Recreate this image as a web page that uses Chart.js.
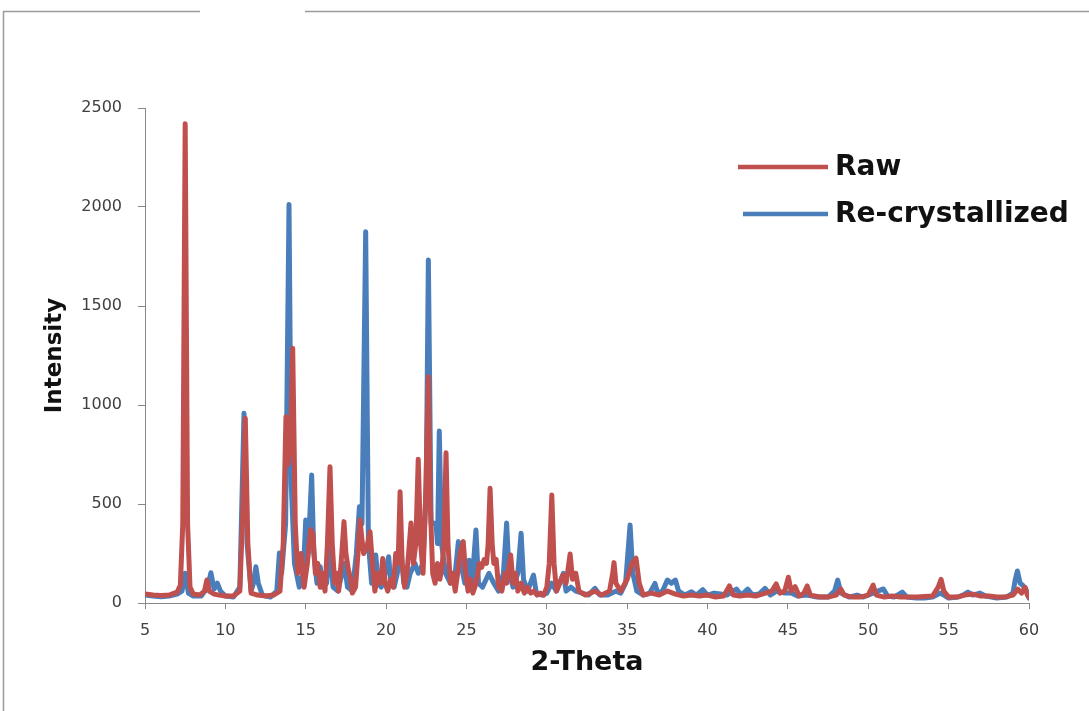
<!DOCTYPE html>
<html>
<head>
<meta charset="utf-8">
<title>XRD pattern</title>
<script src="https://cdn.jsdelivr.net/npm/chart.js@4/dist/chart.umd.min.js"></script>
<style>
  html, body { margin: 0; padding: 0; background: #fff; }
  #wrap { width: 1089px; height: 711px; position: relative; }
</style>
</head>
<body>
<div id="wrap"><canvas id="xrd" width="1089" height="711"></canvas></div>
<script>
// 2-Theta / intensity
var rawTheta = [5.0, 5.5, 6.0, 6.5, 7.0, 7.2, 7.35, 7.5, 7.65, 7.8, 8.0, 8.4, 8.7, 8.85, 9.0, 9.3, 9.6, 10.0, 10.5, 10.9,
	11.1, 11.24, 11.4, 11.6, 12.0, 12.5, 13.0, 13.4, 13.6, 13.77, 13.9, 14.05, 14.19, 14.35, 14.5, 14.7, 14.9, 15.1, 15.3, 15.45,
	15.6, 15.75, 15.9, 16.05, 16.2, 16.35, 16.51, 16.65, 16.8, 16.95, 17.05, 17.2, 17.38, 17.5, 17.65, 17.8, 17.9, 18.1, 18.25, 18.38,
	18.5, 18.6, 18.8, 19.0, 19.15, 19.3, 19.5, 19.65, 19.79, 19.95, 20.1, 20.3, 20.45, 20.6, 20.75, 20.87, 21.0, 21.15, 21.3, 21.4,
	21.55, 21.7, 21.85, 22.0, 22.15, 22.3, 22.45, 22.63, 22.75, 22.9, 23.05, 23.2, 23.35, 23.5, 23.6, 23.73, 23.85, 24.0, 24.15, 24.3,
	24.45, 24.6, 24.8, 24.95, 25.1, 25.25, 25.4, 25.6, 25.8, 25.95, 26.1, 26.25, 26.35, 26.47, 26.6, 26.7, 26.85, 27.0, 27.2, 27.4,
	27.5, 27.75, 27.9, 28.05, 28.2, 28.4, 28.6, 28.8, 29.0, 29.2, 29.4, 29.6, 29.8, 30.0, 30.15, 30.31, 30.45, 30.6, 30.8, 31.0,
	31.2, 31.45, 31.6, 31.8, 32.0, 32.4, 33.0, 33.4, 33.9, 34.1, 34.18, 34.3, 34.6, 35.0, 35.3, 35.55, 35.75, 36.0, 36.5, 37.0,
	37.5, 38.0, 38.5, 39.0, 39.5, 40.0, 40.5, 41.0, 41.36, 41.6, 42.0, 42.5, 43.0, 43.6, 44.0, 44.27, 44.5, 44.8, 45.03, 45.2,
	45.45, 45.7, 46.0, 46.2, 46.4, 47.0, 47.5, 48.0, 48.3, 48.5, 49.0, 49.5, 50.0, 50.3, 50.5, 51.0, 51.5, 52.0, 53.0, 54.0,
	54.35, 54.53, 54.7, 55.0, 55.5, 56.0, 56.5, 57.0, 57.5, 58.0, 58.5, 59.0, 59.3, 59.55, 59.76, 59.9, 60.0];
var rawIntensity = [45, 40, 38, 40, 55, 90, 400, 2420, 400, 80, 45, 40, 60, 116, 60, 45, 40, 35, 35, 60,
	500, 933, 300, 50, 40, 35, 40, 60, 300, 941, 700, 800, 1286, 400, 150, 250, 80, 200, 370, 350,
	150, 200, 80, 150, 60, 300, 688, 300, 100, 150, 60, 200, 411, 250, 170, 120, 50, 80, 250, 419,
	320, 250, 280, 360, 200, 60, 150, 100, 225, 100, 60, 120, 80, 250, 200, 562, 200, 80, 150, 250,
	404, 200, 300, 726, 300, 150, 500, 1143, 500, 150, 100, 200, 120, 200, 300, 759, 300, 100, 150, 60,
	150, 250, 310, 150, 60, 120, 50, 100, 200, 180, 220, 200, 300, 579, 300, 200, 220, 80, 60, 150,
	100, 242, 100, 150, 60, 100, 50, 80, 50, 60, 40, 50, 40, 80, 200, 545, 200, 60, 100, 140,
	100, 247, 120, 150, 60, 40, 60, 40, 60, 150, 204, 100, 60, 120, 200, 226, 100, 40, 50, 40,
	60, 45, 35, 40, 35, 40, 30, 35, 86, 40, 35, 40, 35, 50, 60, 96, 50, 60, 130, 60,
	82, 35, 50, 86, 40, 30, 30, 40, 70, 40, 30, 30, 40, 91, 40, 30, 35, 30, 30, 35,
	80, 120, 60, 30, 30, 40, 45, 35, 35, 30, 30, 40, 70, 50, 79, 40, 30];

var recTheta = [5.0, 5.5, 6.0, 6.5, 7.0, 7.3, 7.5, 7.7, 8.0, 8.5, 8.9, 9.1, 9.3, 9.5, 9.7, 10.0, 10.5, 10.9, 11.16, 11.35,
	11.6, 11.75, 11.9, 12.05, 12.3, 12.8, 13.2, 13.36, 13.5, 13.75, 13.96, 14.1, 14.3, 14.6, 14.85, 15.0, 15.15, 15.37, 15.5, 15.7,
	15.9, 16.05, 16.3, 16.5, 16.7, 17.0, 17.4, 17.6, 17.9, 18.15, 18.34, 18.5, 18.73, 18.9, 19.1, 19.36, 19.5, 19.7, 19.95, 20.16,
	20.3, 20.5, 20.7, 20.9, 21.1, 21.3, 21.5, 21.8, 22.0, 22.3, 22.5, 22.63, 22.8, 23.1, 23.2, 23.31, 23.45, 23.7, 24.0, 24.3,
	24.5, 24.65, 24.9, 25.17, 25.35, 25.59, 25.75, 26.0, 26.4, 26.7, 27.0, 27.3, 27.5, 27.65, 27.9, 28.2, 28.4, 28.55, 28.8, 29.17,
	29.35, 29.7, 30.0, 30.3, 30.6, 31.03, 31.2, 31.5, 31.8, 32.2, 32.6, 33.0, 33.3, 33.8, 34.3, 34.6, 34.9, 35.18, 35.35, 35.6,
	36.0, 36.4, 36.73, 36.9, 37.2, 37.5, 37.75, 38.0, 38.2, 38.6, 39.0, 39.3, 39.7, 40.0, 40.4, 40.8, 41.2, 41.8, 42.1, 42.5,
	42.8, 43.2, 43.58, 43.9, 44.3, 44.8, 45.2, 45.6, 46.2, 46.8, 47.5, 47.9, 48.1, 48.3, 48.8, 49.3, 49.7, 50.3, 50.94, 51.2,
	51.6, 52.12, 52.4, 53.0, 53.5, 54.0, 54.5, 55.0, 55.6, 55.9, 56.2, 56.5, 56.95, 57.3, 58.0, 58.6, 59.0, 59.15, 59.28, 59.45,
	59.6, 59.8, 60.0];
var recIntensity = [40, 35, 32, 35, 45, 60, 150, 50, 35, 35, 80, 153, 70, 100, 60, 35, 30, 80, 958, 300,
	60, 100, 183, 100, 40, 30, 60, 252, 150, 400, 2013, 600, 200, 80, 150, 419, 250, 646, 250, 100,
	183, 80, 100, 300, 80, 60, 200, 80, 60, 250, 486, 400, 1875, 300, 100, 242, 100, 80, 150, 234,
	100, 80, 150, 300, 100, 80, 150, 200, 150, 200, 600, 1732, 400, 404, 300, 869, 300, 150, 100, 150,
	310, 200, 100, 216, 100, 369, 100, 80, 150, 100, 60, 150, 404, 150, 80, 150, 352, 120, 60, 141,
	50, 40, 50, 100, 60, 150, 60, 80, 60, 50, 40, 74, 40, 40, 60, 50, 100, 394, 150, 60,
	40, 50, 99, 50, 60, 116, 100, 116, 60, 40, 57, 40, 67, 40, 50, 45, 40, 70, 40, 70,
	40, 45, 74, 40, 60, 50, 50, 35, 40, 30, 30, 60, 116, 50, 30, 40, 30, 50, 71, 35,
	30, 55, 30, 25, 25, 30, 50, 25, 30, 40, 55, 40, 50, 35, 25, 30, 50, 120, 162, 100,
	90, 70, 25];

var seriesNames = ['Raw', 'Re-crystallized'];
var seriesColors = ['#c0504d', '#4a7ebb'];
var thetaTicks = [5, 10, 15, 20, 25, 30, 35, 40, 45, 50, 55, 60];
var intensityTicks = [0, 500, 1000, 1500, 2000, 2500];

function toPoints(xs, ys) {
	return xs.map(function (x, i) { return { x: x, y: ys[i] }; });
}

// scanned-page frame (top and left edge)
var framePlugin = {
	id: 'frame',
	beforeDraw: function (chart) {
		var ctx = chart.ctx;
		ctx.save();
		ctx.strokeStyle = '#9a9a9a';
		ctx.lineWidth = 1.5;
		ctx.beginPath();
		ctx.moveTo(3.5, 711);
		ctx.lineTo(3.5, 11.5);
		ctx.lineTo(200, 11.5);
		ctx.moveTo(305, 11.5);
		ctx.lineTo(1089, 11.5);
		ctx.stroke();
		ctx.restore();
	}
};

// legend drawn inside the plot, to the upper right
var legendPlugin = {
	id: 'inLegend',
	afterDraw: function (chart) {
		var ctx = chart.ctx;
		var rows = [{ y: 167, x0: 738 }, { y: 214, x0: 743 }];
		ctx.save();
		ctx.font = 'bold 28px "DejaVu Sans"';
		ctx.textBaseline = 'middle';
		chart.data.datasets.forEach(function (ds, i) {
			var r = rows[i];
			ctx.strokeStyle = ds.borderColor;
			ctx.lineWidth = 4.5;
			ctx.beginPath();
			ctx.moveTo(r.x0, r.y);
			ctx.lineTo(828, r.y);
			ctx.stroke();
			ctx.fillStyle = '#111';
			ctx.fillText(ds.label, 835, r.y + 1);
		});
		ctx.restore();
	}
};

function plainTick(v) { return String(v); }

new Chart(document.getElementById('xrd'), {
	type: 'line',
	data: {
		datasets: [
			{
				label: seriesNames[0],
				data: toPoints(rawTheta, rawIntensity),
				borderColor: seriesColors[0],
				backgroundColor: seriesColors[0],
				borderWidth: 5,
				borderJoinStyle: 'round',
				borderCapStyle: 'round',
				pointRadius: 0,
				tension: 0,
			},
			{
				label: seriesNames[1],
				data: toPoints(recTheta, recIntensity),
				borderColor: seriesColors[1],
				backgroundColor: seriesColors[1],
				borderWidth: 5,
				borderJoinStyle: 'round',
				borderCapStyle: 'round',
				pointRadius: 0,
				tension: 0,
			},
		],
	},
	options: {
		responsive: false,
		animation: false,
		layout: { padding: { top: 108, right: 60, left: 0, bottom: 0 } },
		plugins: {
			legend: { display: false },
			tooltip: { enabled: false },
		},
		scales: {
			x: {
				type: 'linear',
				min: thetaTicks[0],
				max: thetaTicks[thetaTicks.length - 1],
				afterBuildTicks: function (scale) {
					scale.ticks = thetaTicks.map(function (v) { return { value: v }; });
				},
				afterFit: function (scale) {
					scale.height = 108;
					scale.paddingLeft = 0;
					scale.paddingRight = 0;
				},
				grid: { drawOnChartArea: false, drawTicks: true, tickLength: 6, color: '#888' },
				border: { display: true, color: '#888', width: 1 },
				ticks: { padding: 12, color: '#404040', font: { family: 'DejaVu Sans', size: 16 }, maxRotation: 0, callback: plainTick },
				title: {
					display: true,
					text: '2-Theta',
					color: '#111',
					font: { family: 'DejaVu Sans', size: 27, weight: 'bold' },
					padding: { top: 0, bottom: 32 },
				},
			},
			y: {
				min: intensityTicks[0],
				max: intensityTicks[intensityTicks.length - 1],
				afterBuildTicks: function (scale) {
					scale.ticks = intensityTicks.map(function (v) { return { value: v }; });
				},
				afterFit: function (scale) {
					scale.width = 145;
					scale.paddingTop = 0;
					scale.paddingBottom = 0;
				},
				grid: { drawOnChartArea: false, drawTicks: true, tickLength: 7, color: '#888' },
				border: { display: true, color: '#888', width: 1 },
				ticks: { padding: 16, color: '#404040', font: { family: 'DejaVu Sans', size: 16 }, callback: plainTick },
				title: {
					display: true,
					text: 'Intensity',
					color: '#111',
					font: { family: 'DejaVu Sans', size: 23, weight: 'bold' },
					padding: { top: 41, bottom: 0 },
				},
			},
		},
	},
	plugins: [framePlugin, legendPlugin],
});
</script>
</body>
</html>
